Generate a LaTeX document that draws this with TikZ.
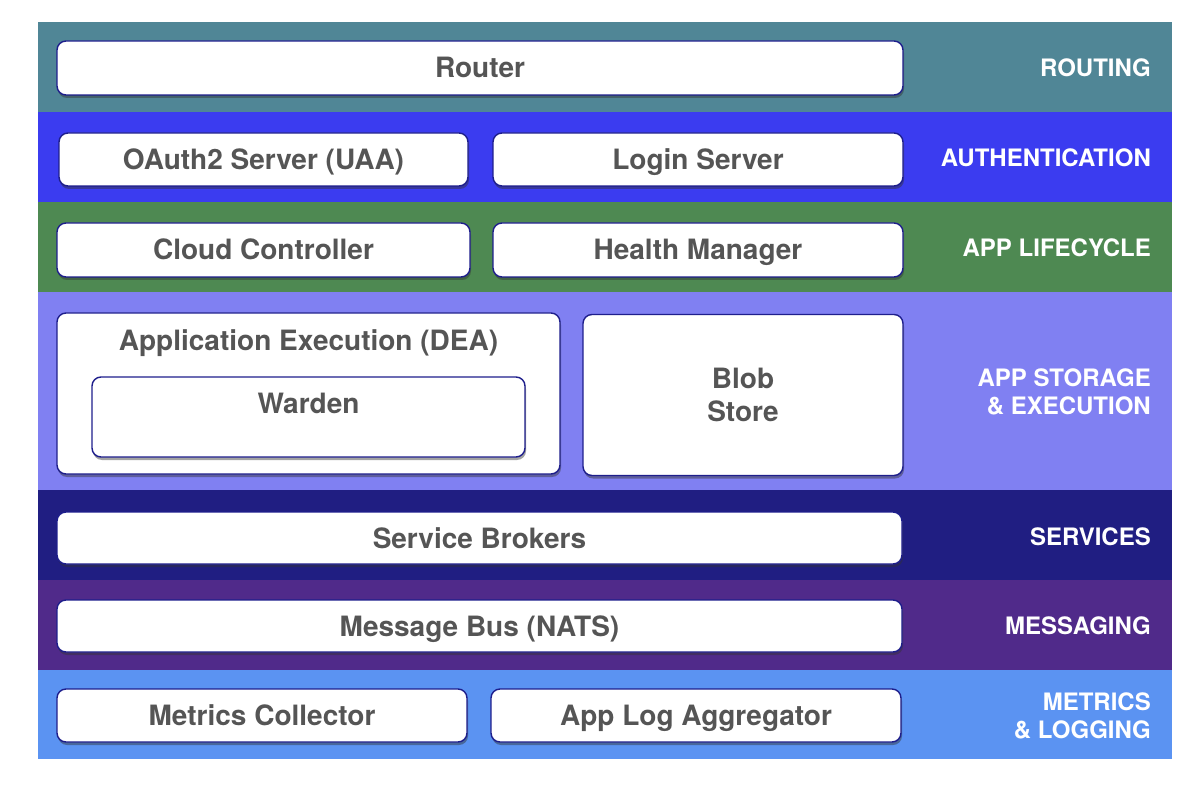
\documentclass[tikz,border=0pt]{standalone}
\usepackage{fontspec}
\setmainfont{TeX Gyre Heros}
\usetikzlibrary{shadows}
\definecolor{cRouting}{RGB}{80,134,150}
\definecolor{cAuth}{RGB}{59,60,240}
\definecolor{cLife}{RGB}{78,137,82}
\definecolor{cStore}{RGB}{128,128,242}
\definecolor{cServ}{RGB}{32,30,130}
\definecolor{cMsg}{RGB}{80,42,138}
\definecolor{cMetr}{RGB}{91,147,242}
\definecolor{cBorder}{RGB}{30,30,140}
\definecolor{cText}{RGB}{85,85,85}
\tikzset{
  boxfont/.style={font=\fontsize{28}{33}\selectfont\bfseries},
  compbox/.style={rectangle, rounded corners=9pt, draw=cBorder, line width=1.4pt, fill=white,
    inner sep=0pt, text=cText, boxfont, text height=20pt, text depth=0pt,
    drop shadow={shadow xshift=1pt, shadow yshift=-3pt, opacity=0.45, fill=black!80}},
  bandlabel/.style={anchor=east, align=right, text=white, inner sep=0pt,
    font=\fontsize{24}{28}\selectfont\bfseries},
  innerlabel/.style={anchor=north, text=cText, boxfont, inner sep=0pt}
}
\begin{document}
\begin{tikzpicture}[x=1pt,y=-1pt]
\useasboundingbox (0,0) rectangle (1200,794);
\fill[white] (0,0) rectangle (1200,794);
% bands
\fill[cRouting] (38,22) rectangle (1172,112);
\fill[cAuth] (38,112) rectangle (1172,202);
\fill[cLife] (38,202) rectangle (1172,292);
\fill[cStore] (38,292) rectangle (1172,490);
\fill[cServ] (38,490) rectangle (1172,580);
\fill[cMsg] (38,580) rectangle (1172,670);
\fill[cMetr] (38,670) rectangle (1172,759);
% band labels
\node[bandlabel] (lRouting) at (1151,68) {ROUTING};
\node[bandlabel] (lAuth) at (1151,158) {AUTHENTICATION};
\node[bandlabel] (lLife) at (1151,248) {APP LIFECYCLE};
\node[bandlabel] (lStore) at (1151,392) {APP STORAGE\\\& EXECUTION};
\node[bandlabel] (lServ) at (1151,537) {SERVICES};
\node[bandlabel] (lMsg) at (1151,626) {MESSAGING};
\node[bandlabel] (lMetr) at (1151,716) {METRICS\\\& LOGGING};
% component boxes
\node[compbox, minimum width=846pt, minimum height=54pt] (router) at (480,68) {Router};
\node[compbox, minimum width=409pt, minimum height=53pt] (oauth) at (263.5,159.5) {OAuth2 Server (UAA)};
\node[compbox, minimum width=410pt, minimum height=53pt] (login) at (698,159.5) {Login Server};
\node[compbox, minimum width=413pt, minimum height=54pt] (cc) at (263.5,250) {Cloud Controller};
\node[compbox, minimum width=410pt, minimum height=54pt] (hm) at (698,250) {Health Manager};
\node[compbox, minimum width=503pt, minimum height=161pt,
  label={[innerlabel, yshift=-17pt]north:Application Execution (DEA)}] (dea) at (308.5,393.5) {};
\node[compbox, minimum width=433pt, minimum height=80pt,
  label={[innerlabel, yshift=-17pt]north:Warden}] (warden) at (308.5,417) {};
\node[compbox, minimum width=320pt, minimum height=161pt, align=center, text height=, text depth=] (blob) at (743,395) {Blob\\Store};
\node[compbox, minimum width=845pt, minimum height=52pt] (sb) at (479.5,538) {Service Brokers};
\node[compbox, minimum width=845pt, minimum height=52pt] (nats) at (479.5,626) {Message Bus (NATS)};
\node[compbox, minimum width=410pt, minimum height=53pt] (mc) at (262,715.5) {Metrics Collector};
\node[compbox, minimum width=410pt, minimum height=53pt] (alog) at (696,715.5) {App Log Aggregator};
\end{tikzpicture}
\end{document}
